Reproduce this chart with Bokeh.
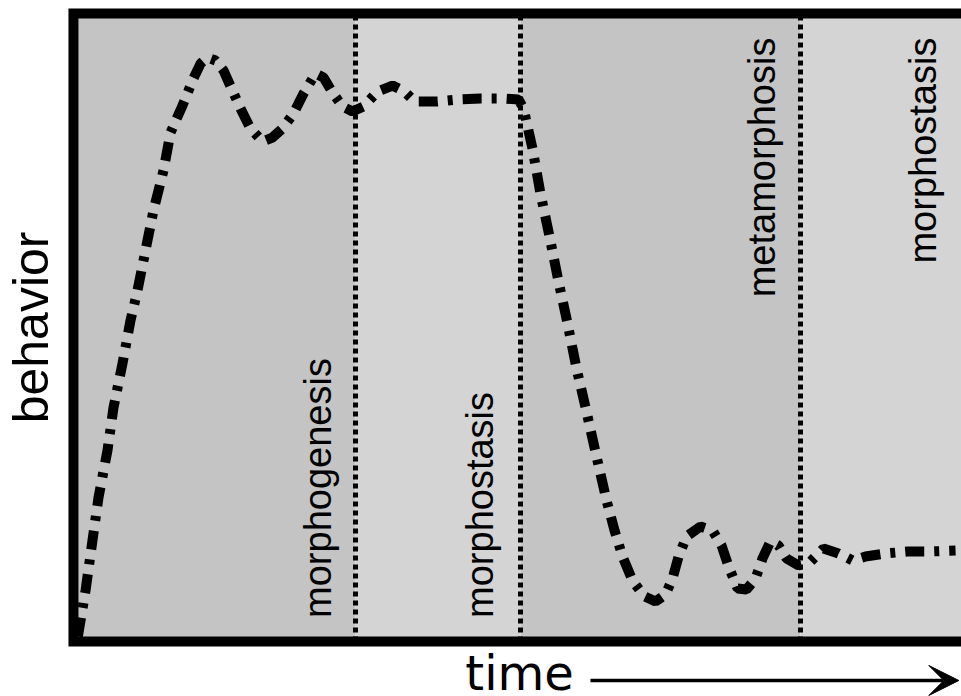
from bokeh.plotting import figure
from bokeh.models import Range1d, BoxAnnotation, Label, Arrow, VeeHead
from bokeh.embed import file_html
from bokeh.resources import INLINE

# ---- data ----
time = [0.0, 0.86, 1.64, 2.32, 3.33, 4.01, 5.02, 5.92, 6.71, 7.61, 8.51, 9.64,
        10.43, 11.78, 12.91, 13.81, 14.59, 15.50, 16.40, 17.30, 18.31, 19.44,
        20.79, 21.91, 23.04, 24.28, 25.41, 26.76, 27.66, 28.67, 29.80, 30.92,
        32.16, 33.74, 35.43, 36.78, 37.91, 40.50, 42.86, 45.34, 47.93, 49.62,
        50.18, 51.19, 52.09, 53.11, 54.12, 55.14, 56.15, 57.27, 58.40, 59.53,
        60.43, 61.33, 62.45, 63.81, 65.05, 66.17, 66.96, 67.64, 68.54, 70.11,
        71.46, 72.48, 73.27, 74.28, 75.29, 76.31, 77.09, 77.99, 78.90, 79.80,
        81.15, 82.50, 83.96, 85.65, 87.23, 88.69, 90.95, 93.42, 96.01, 98.83]
behavior = [0.0, 7.44, 15.53, 22.49, 30.09, 37.05, 44.17, 51.12, 55.98, 62.45,
            68.92, 75.39, 81.54, 85.91, 89.95, 92.70, 93.67, 93.19, 91.57, 88.66,
            85.42, 82.19, 80.08, 80.73, 82.19, 84.61, 87.85, 91.09, 90.44, 88.01,
            85.75, 84.94, 85.75, 88.17, 89.14, 88.17, 86.56, 86.56, 86.88, 87.04,
            87.04, 86.88, 85.42, 78.95, 71.67, 64.71, 57.43, 50.64, 43.36, 36.40,
            29.12, 22.00, 17.15, 12.94, 9.06, 6.47, 5.66, 6.80, 9.38, 12.94,
            16.18, 17.80, 17.15, 14.72, 11.33, 7.77, 7.60, 9.38, 12.62, 15.37,
            14.72, 12.62, 11.49, 12.13, 14.24, 13.43, 12.30, 12.94, 13.43, 13.75,
            13.75, 13.91]

phase_names = ["morphogenesis", "morphostasis", "metamorphosis", "morphostasis"]
phase_starts = [0.0, 31.26, 49.84, 81.37]
phase_ends = [31.26, 49.84, 81.37, 105.0]
phase_colors = ["#c4c4c4", "#d4d4d4", "#c4c4c4", "#d4d4d4"]
label_x = [27.0, 45.3, 77.0, 95.2]
label_y = [3.0, 3.0, 96.9, 96.9]
label_align = ["left", "left", "right", "right"]

x_label = "time"
y_label = "behavior"

# plot-box extents (edges sit under the thick black border)
x_lo, x_hi = -0.5, 105.0
y_lo, y_hi = -0.8, 100.8

p = figure(width=961, height=696, output_backend="svg", toolbar_location=None,
           x_range=Range1d(-8.716, 99.50), y_range=Range1d(-9.71, 102.90),
           x_axis_type=None, y_axis_type=None,
           min_border_left=0, min_border_right=0, min_border_top=0,
           min_border_bottom=0)
p.background_fill_color = "white"
p.border_fill_color = "white"
p.outline_line_color = None
p.grid.visible = False

for s, e, c in zip(phase_starts, phase_ends, phase_colors):
    p.add_layout(BoxAnnotation(left=s, right=e, bottom=y_lo, top=y_hi,
                               fill_color=c, fill_alpha=1.0, line_color=None,
                               level="underlay"))

bounds = phase_ends[:-1]
p.multi_line(xs=[[b, b] for b in bounds], ys=[[y_lo, y_hi] for b in bounds],
             line_color="black", line_alpha=1.0, line_width=5, line_dash="5 4")

p.line(time, behavior, line_color="black", line_width=10,
       line_dash="19 10 5 10")

p.add_layout(BoxAnnotation(left=x_lo, right=x_hi, bottom=y_lo, top=y_hi,
                           fill_color=None, line_color="black", line_alpha=1.0,
                           line_width=10, line_join="miter", level="annotation"))

for name, lx, ly, al in zip(phase_names, label_x, label_y, label_align):
    p.add_layout(Label(x=lx, y=ly, text=name, angle=1.5708,
                       text_align=al, text_baseline="middle",
                       text_font="Liberation Sans", text_font_size="38px",
                       text_color="black"))

p.add_layout(Label(x=-5.3, y=50.0, text=y_label, angle=1.5708,
                   text_align="center", text_baseline="middle",
                   text_font="Liberation Sans", text_font_size="50px",
                   text_color="black"))
p.add_layout(Label(x=43.63, y=-5.9, text=x_label,
                   text_align="left", text_baseline="middle",
                   text_font="DejaVu Sans", text_font_size="48px",
                   text_color="black"))
p.add_layout(Arrow(x_start=57.72, y_start=-7.12, x_end=99.2, y_end=-7.12,
                   line_color="black", line_width=3.5,
                   end=VeeHead(size=30, fill_color="black", line_color="black")))

open("out.html", "w").write(file_html(p, INLINE))
